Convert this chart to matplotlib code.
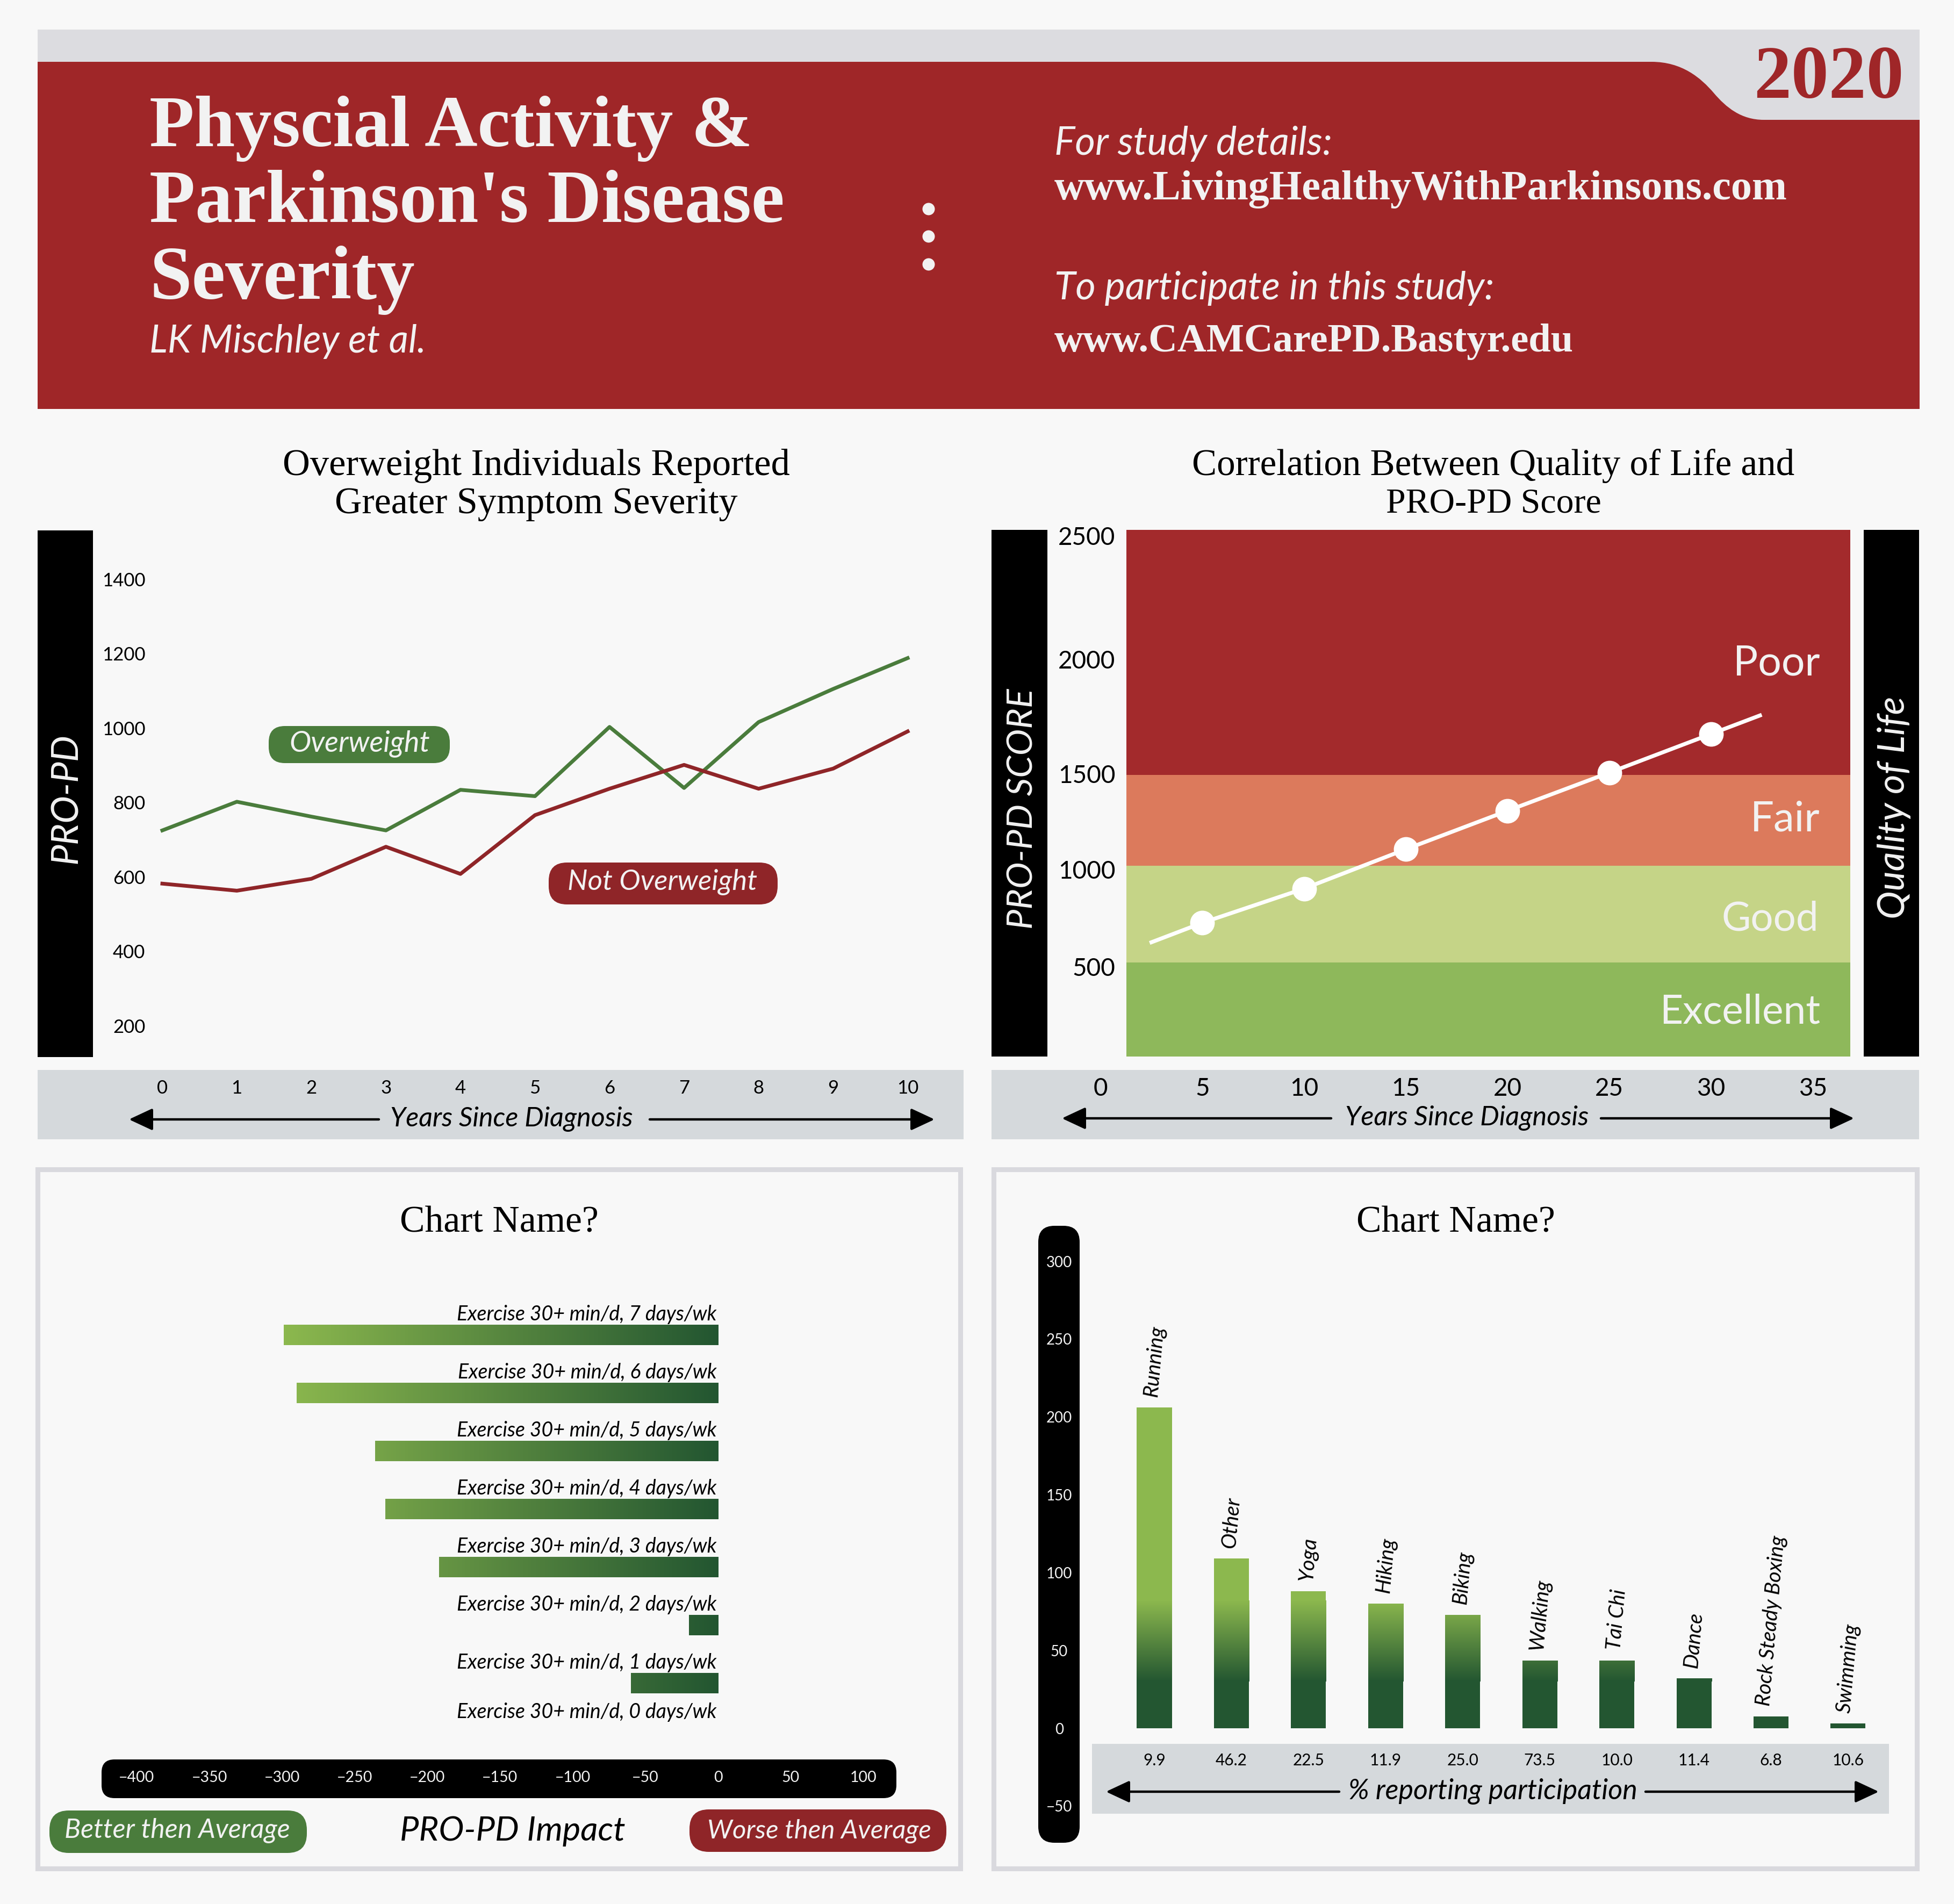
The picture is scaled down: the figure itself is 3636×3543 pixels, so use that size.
import numpy as np
import matplotlib
matplotlib.use("Agg")
import matplotlib.pyplot as plt
from matplotlib.patches import Rectangle, FancyBboxPatch, PathPatch, Circle
from matplotlib.path import Path
from matplotlib.colors import LinearSegmentedColormap
from matplotlib.textpath import TextPath
from matplotlib.font_manager import FontProperties

# ---------- data ----------
years = [0, 1, 2, 3, 4, 5, 6, 7, 8, 9, 10]
overweight = [725, 802, 762, 725, 834, 817, 1003, 839, 1016, 1105, 1188]
not_overweight = [582, 563, 595, 681, 608, 766, 837, 901, 837, 891, 991]
pro_ticks = [200, 400, 600, 800, 1000, 1200, 1400]

qol_years = [2.5, 5, 10, 15, 20, 25, 30, 32.4]
qol_score = [626, 726, 902, 1106, 1307, 1505, 1674, 1755]
qol_marker_years = [5, 10, 15, 20, 25, 30]
qol_marker_score = [726, 902, 1106, 1307, 1505, 1674]
qol_xticks = [0, 5, 10, 15, 20, 25, 30, 35]
qol_yticks = [500, 1000, 1500, 2000, 2500]
qol_scale_values = [38, 500, 1000, 1500, 2000, 2524]
qol_scale_pos = [0, 194, 404, 611, 858, 1138]
band_edges = [38, 521, 1019, 1495, 2524]
band_names = ["Excellent", "Good", "Fair", "Poor"]

days_labels = [f"Exercise 30+ min/d, {d} days/wk" for d in [7, 6, 5, 4, 3, 2, 1, 0]]
days_impact = [-299, -290, -236, -229, -192, -20, -60, 0]
impact_ticks = [-400, -350, -300, -250, -200, -150, -100, -50, 0, 50, 100]

activities = ["Running", "Other", "Yoga", "Hiking", "Biking", "Walking", "Tai Chi",
              "Dance", "Rock Steady Boxing", "Swimming"]
activity_impact = [206, 109, 88, 80, 73, 43.5, 43.5, 32, 7.7, 3]
participation = ["9.9", "46.2", "22.5", "11.9", "25.0", "73.5", "10.0", "11.4", "6.8", "10.6"]
activity_ticks = [-50, 0, 50, 100, 150, 200, 250, 300]

# ---------- style ----------
W, H, DPI = 3637, 3543, 100
BG = "#F8F8F8"
RED = "#9F2628"
DRED = "#8F2528"
LGREEN = "#4A7C3C"
BAND = "#D5D9DC"
FRAME = "#D9D9DE"
OFFW = "#F2F2F2"
SANS = "Lato"
SERIF = "Liberation Serif"
CM = LinearSegmentedColormap.from_list("g", ["#8CB84E", "#235631"])

fig = plt.figure(figsize=(W / DPI, H / DPI), dpi=DPI, facecolor=BG)


def px_axes(l, t, r, b, z=1):
    ax = fig.add_axes([l / W, 1 - b / H, (r - l) / W, (b - t) / H], zorder=z)
    ax.patch.set_visible(False)
    for s in ax.spines.values():
        s.set_visible(False)
    ax.tick_params(length=0)
    return ax


bg = px_axes(0, 0, W, H, 0)
top = px_axes(0, 0, W, H, 5)
for a in (bg, top):
    a.set_xlim(0, W)
    a.set_ylim(H, 0)
    a.axis("off")


def T(x, y, s, w=None, size=30, ha="left", va="baseline", style="normal", weight="normal",
      family=SANS, color="black", rot=0):
    if w is not None:
        fp = FontProperties(family=family, style=style, weight=weight)
        ext = TextPath((0, 0), s, size=100, prop=fp).get_extents()
        size = 100 * w / ext.width * 72 / DPI
    top.text(x, y, s, fontsize=size, ha=ha, va=va, style=style, weight=weight,
             family=family, color=color, rotation=rot)


def rect(l, t, r, b, c, z=1):
    bg.add_patch(Rectangle((l, t), r - l, b - t, fc=c, ec="none", zorder=z))


def pill(l, t, r, b, c, rad, z=2):
    bg.add_patch(FancyBboxPatch((l, t), r - l, b - t, boxstyle=f"round,pad=0,rounding_size={rad}",
                                fc=c, ec="none", zorder=z))


def arrows(xl0, xl1, xr0, xr1, y):
    for a, b in ((xl0, xl1), (xr0, xr1)):
        bg.annotate("", xy=(b, y), xytext=(a, y), zorder=4,
                    arrowprops=dict(arrowstyle="-|>,head_length=0.9,head_width=0.42", color="black",
                                    lw=3.2, mutation_scale=30, shrinkA=0, shrinkB=0))


# ---------- header ----------
rect(70, 55, 3572, 240, "#DCDCE0")
codes = [Path.MOVETO, Path.LINETO, Path.CURVE4, Path.CURVE4, Path.CURVE4, Path.CURVE4, Path.CURVE4,
         Path.CURVE4, Path.LINETO, Path.LINETO, Path.LINETO, Path.CLOSEPOLY]
verts = [(70, 115), (3073, 115), (3130, 115), (3165, 145), (3189, 173), (3212, 200), (3240, 223),
         (3282, 223), (3572, 223), (3572, 761), (70, 761), (70, 115)]
bg.add_patch(PathPatch(Path(verts, codes), fc=RED, ec="none", zorder=2))
T(3263, 182, "2020", w=268, weight="bold", family=SERIF, color=RED)
T(278, 272, "Physcial Activity &", w=1113, weight="bold", family=SERIF, color=OFFW)
T(278, 413, "Parkinson's Disease", w=1176, weight="bold", family=SERIF, color=OFFW)
T(278, 556, "Severity", w=485, weight="bold", family=SERIF, color=OFFW)
T(278, 656, "LK Mischley et al.", w=505, style="italic", color=OFFW)
T(1962, 288, "For study details:", w=510, style="italic", color=OFFW)
T(1962, 371, "www.LivingHealthyWithParkinsons.com", w=1362, weight="bold", family=SERIF, color=OFFW)
T(1962, 557, "To participate in this study:", w=810, style="italic", color=OFFW)
T(1962, 654, "www.CAMCarePD.Bastyr.edu", w=965, weight="bold", family=SERIF, color=OFFW)
for cy in (389, 440, 492):
    bg.add_patch(Circle((1728, cy), 11.5, fc=OFFW, ec="none", zorder=3))

# ---------- top left ----------
T(998, 867, "Overweight Individuals Reported", w=940, family=SERIF, ha="center", va="center")
T(998, 938, "Greater Symptom Severity", w=746, family=SERIF, ha="center", va="center")
rect(70, 987, 173, 1967, "black")
rect(70, 1991, 1793, 2120, BAND)
T(124, 1486, "PRO-PD", w=237, style="italic", ha="center", va="center", color=OFFW, rot=90)
T(952, 2083, "Years Since Diagnosis", w=448, style="italic", ha="center", va="center")
arrows(705, 240, 1209, 1739, 2083)
ax1 = px_axes(280, 987, 1793, 1967)
ax1.plot(years, overweight, color=LGREEN, lw=5)
ax1.plot(years, not_overweight, color=DRED, lw=5)
ax1.set_xlim(-0.159, 10.75)
ax1.set_ylim(116, 1531)
ax1.set_xticks(years)
ax1.set_yticks(pro_ticks)
ax1.tick_params(axis="x", labelsize=25, pad=30)
ax1.tick_params(axis="y", labelsize=25, pad=7)
pill(500, 1351, 837, 1420, LGREEN, 30)
T(669, 1384, "Overweight", w=258, style="italic", ha="center", va="center", color=OFFW)
pill(1021, 1605, 1447, 1683, DRED, 34)
T(1233, 1642, "Not Overweight", w=350, style="italic", ha="center", va="center", color=OFFW)

# ---------- top right ----------
T(2779, 867, "Correlation Between Quality of Life and", w=1118, family=SERIF, ha="center", va="center")
T(2779, 938, "PRO-PD Score", w=396, family=SERIF, ha="center", va="center")
rect(1845, 986, 1949, 1966, "black")
rect(3468, 986, 3571, 1966, "black")
rect(1845, 1991, 3571, 2120, BAND)
T(1902, 1505, "PRO-PD SCORE", w=445, style="italic", ha="center", va="center", color=OFFW, rot=90)
T(3524, 1503, "Quality of Life", w=408, style="italic", ha="center", va="center", color=OFFW, rot=90)
T(2730, 2081, "Years Since Diagnosis", w=450, style="italic", ha="center", va="center")
arrows(2477, 1976, 2979, 3450, 2081)
ax2 = px_axes(1949, 986, 3468, 1966)
ax2.set_yscale("function", functions=(lambda v: np.interp(v, qol_scale_values, qol_scale_pos),
                                      lambda p: np.interp(p, qol_scale_pos, qol_scale_values)))
band_colors = ["#8EB85B", "#C5D487", "#DC7A5C", "#A32A2C"]
x0f, x1f = (2096 - 1949) / 1519, (3443 - 1949) / 1519
for i, c in enumerate(band_colors):
    ax2.axhspan(band_edges[i], band_edges[i + 1], xmin=x0f, xmax=x1f, color=c, lw=0, zorder=1)
ax2.plot(qol_years, qol_score, color="white", lw=5.2, zorder=3)
ax2.plot(qol_marker_years, qol_marker_score, "o", color="white", ms=33, mew=0, zorder=4)
ax2.set_xlim(-2.614, 37.5)
ax2.set_ylim(38, 2524)
ax2.set_xticks(qol_xticks)
ax2.set_yticks(qol_yticks)
ax2.minorticks_off()
ax2.tick_params(axis="x", labelsize=33, pad=28)
ax2.tick_params(axis="y", labelsize=33, pad=-91)
T(3387, 1235, band_names[3], w=154, ha="right", va="center", color=OFFW)
T(3387, 1525, band_names[2], w=122, ha="right", va="center", color=OFFW)
T(3384, 1710, band_names[1], w=172, ha="right", va="center", color=OFFW)
T(3387, 1883, band_names[0], w=292, ha="right", va="center", color=OFFW)

# ---------- bottom frames ----------
for l, r in ((66, 1791), (1845, 3571)):
    bg.add_patch(Rectangle((l + 4, 2176), r - l - 8, 1301, fc="none", ec=FRAME, lw=6.5, zorder=1))

# ---------- bottom left ----------
T(929, 2276, "Chart Name?", w=364, family=SERIF, ha="center", va="center")
pill(189, 3274, 1668, 3346, "black", 24)
ax3 = px_axes(189, 2380, 1668, 3274)
bars = ax3.barh(range(len(days_impact)), days_impact, height=0.355, color="none")
for b in bars:
    if b.get_width() == 0:
        continue
    im = ax3.imshow(np.linspace(0, 1, 256).reshape(1, -1), extent=(-299, 0, 8, -1), aspect="auto",
                    cmap=CM, vmin=0, vmax=1, interpolation="bilinear", zorder=1)
    im.set_clip_path(b)
for i, lab in enumerate(days_labels):
    off = 39 if i == 7 else 27.5
    ax3.annotate(lab, (0, i), xytext=(-2, off), textcoords="offset points", ha="right", va="center",
                 style="italic", fontsize=27, family=SANS, color="black", zorder=3)
ax3.set_xlim(-424.2, 122.8)
ax3.set_ylim(7.315, -0.963)
ax3.set_yticks([])
ax3.set_xticks(impact_ticks)
ax3.tick_params(axis="x", labelsize=20.5, pad=15, labelcolor=OFFW)
T(954, 3408, "PRO-PD Impact", w=415, style="italic", ha="center", va="center")
pill(92, 3369, 571, 3448, LGREEN, 36)
T(330, 3407, "Better then Average", w=415, style="italic", ha="center", va="center", color=OFFW)
pill(1283, 3367, 1761, 3446, DRED, 36)
T(1525, 3407, "Worse then Average", w=412, style="italic", ha="center", va="center", color=OFFW)

# ---------- bottom right ----------
T(2709, 2276, "Chart Name?", w=364, family=SERIF, ha="center", va="center")
pill(1932, 2281, 2009, 3429, "black", 30)
rect(2032, 3245, 3515, 3375, BAND)
T(2778, 3334, "% reporting participation", w=532, style="italic", ha="center", va="center")
arrows(2492, 2058, 3062, 3496, 3334)
ax4 = px_axes(2009, 2290, 3515, 3429)
xs = np.arange(len(activities))
bars4 = ax4.bar(xs, activity_impact, width=65 / 143.4, color="none")
for b in bars4:
    im = ax4.imshow(np.linspace(1, 0, 256).reshape(-1, 1), extent=(-1, 10, 30, 82), aspect="auto",
                    origin="lower", cmap=CM, vmin=0, vmax=1, interpolation="bilinear", zorder=1)
    im.set_clip_path(b)
    low = Rectangle((b.get_x(), 0), b.get_width(), min(30, b.get_height()), fc="#235631", ec="none", zorder=1)
    ax4.add_patch(low)
    if b.get_height() > 82:
        ax4.add_patch(Rectangle((b.get_x(), 82), b.get_width(), b.get_height() - 82, fc="#8CB84E", ec="none", zorder=1))
for x, v, lab in zip(xs, activity_impact, activities):
    ax4.annotate(lab, (x, v), xytext=(0, 13), textcoords="offset points", ha="center", va="bottom",
                 rotation=85, style="italic", fontsize=28, family=SANS, color="black", zorder=3)
ax4.set_xlim(-0.969, 9.53)
ax4.set_ylim(-73.5, 319.7)
ax4.set_xticks(xs)
ax4.set_xticklabels(participation)
ax4.set_yticks(activity_ticks)
ax4.tick_params(axis="x", labelsize=21.5, pad=-120)
ax4.tick_params(axis="y", labelsize=20, pad=27.4, labelcolor=OFFW)
for lb in ax4.get_yticklabels():
    lb.set_horizontalalignment("center")

for ax in (ax1, ax2, ax3, ax4):
    for lb in ax.get_xticklabels() + ax.get_yticklabels():
        lb.set_fontfamily(SANS)

fig.savefig("out.png", dpi=DPI, facecolor=BG)
